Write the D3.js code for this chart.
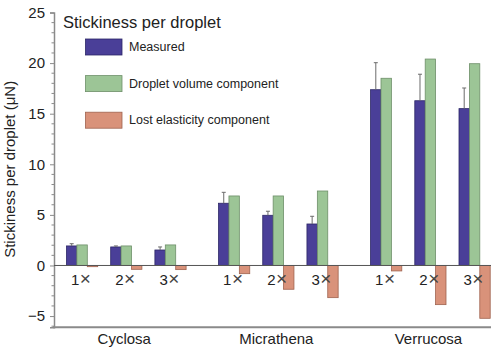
<!DOCTYPE html>
<html><head><meta charset="utf-8">
<script src="https://cdn.jsdelivr.net/npm/d3@7/dist/d3.min.js"></script>
<style>body{margin:0;background:#fff}svg{display:block;font-family:"Liberation Sans",Arial,sans-serif}</style>
</head><body><svg id="c" width="494" height="348"></svg>
<script>
const species = ["Cyclosa","Micrathena","Verrucosa"];
const reps = ["1×","2×","3×"];
const seriesNames = ["Measured","Droplet volume component","Lost elasticity component"];
const measured = [1.93,1.83,1.53, 6.15,4.96,4.10, 17.37,16.28,15.50];
const measuredErr = [0.22,0.10,0.30, 1.08,0.40,0.76, 2.67,2.62,2.04];
const volume = [2.03,1.93,2.03, 6.87,6.87,7.36, 18.50,20.40,19.94];
const elasticity = [-0.12,-0.38,-0.41, -0.81,-2.35,-3.18, -0.54,-3.87,-5.22];
const yTicks = [-5,0,5,10,15,20,25];
const colors = ["#4a3f98","#9cc596","#d9927a"];
const strokes = ["#2c2766","#6e8f69","#9f634f"];

const svg = d3.select("#c");
const y = d3.scaleLinear().domain([-6.1,25]).range([327.2,12.5]);
const x = d3.scaleLinear().domain([0,8.88]).range([66.5,459]);
const inner = d3.scaleBand().domain(seriesNames).range([0,31.2]).padding(0);
const pos = (i) => Math.floor(i/3)*3.44 + (i%3);

// y axis
const yAxis = d3.axisLeft(y).tickValues(yTicks).tickSize(4).tickPadding(5).tickFormat(d => d<0 ? "\u2212"+Math.abs(d) : d);
const ga = svg.append("g").attr("transform","translate(54,0)").call(yAxis);
ga.select(".domain").attr("stroke","#8a8a8a").attr("stroke-width",1.5);
ga.selectAll(".tick line").attr("stroke","#8a8a8a");
ga.selectAll(".tick text").attr("font-size",15).attr("fill","#222").attr("font-family","Liberation Sans, Arial, sans-serif");
const minor = d3.range(-6,26).filter(v => v%5!==0);
svg.append("g").selectAll("line").data(minor).join("line")
  .attr("x1",51.5).attr("x2",54).attr("y1",d=>y(d)).attr("y2",d=>y(d))
  .attr("stroke","#8a8a8a").attr("stroke-width",1);

// bottom axis line
svg.append("line").attr("x1",53).attr("x2",491).attr("y1",y(-6.1)).attr("y2",y(-6.1))
  .attr("stroke","#8a8a8a").attr("stroke-width",2);

// bars
const seriesVals = [measured, volume, elasticity];
seriesVals.forEach((vals, si) => {
  svg.append("g").selectAll("rect").data(vals).join("rect")
    .attr("x",(d,i)=>x(pos(i))+inner(seriesNames[si]))
    .attr("width",inner.bandwidth())
    .attr("y",d=>y(Math.max(0,d)))
    .attr("height",d=>Math.abs(y(d)-y(0)))
    .attr("fill",colors[si]).attr("stroke",strokes[si]).attr("stroke-width",0.8);
});
// error bars (upward)
const eg = svg.append("g").attr("stroke","#6b6b6b").attr("stroke-width",1);
measured.forEach((m,i)=>{
  const cx = x(pos(i))+inner(seriesNames[0])+inner.bandwidth()/2;
  eg.append("line").attr("x1",cx).attr("x2",cx).attr("y1",y(m)).attr("y2",y(m+measuredErr[i]));
  eg.append("line").attr("x1",cx-2).attr("x2",cx+2).attr("y1",y(m+measuredErr[i])).attr("y2",y(m+measuredErr[i]));
});

// zero line
svg.append("line").attr("x1",54).attr("x2",491).attr("y1",y(0)).attr("y2",y(0))
  .attr("stroke","#555").attr("stroke-width",1);

// rep labels
const rl = svg.append("g").selectAll("text").data(d3.range(9)).join("text")
  .attr("x",i=>x(pos(i))+4.5).attr("y",y(0)+20)
  .attr("font-size",15).attr("fill","#222");
rl.append("tspan").text(i=>reps[i%3].charAt(0));
rl.append("tspan").attr("dx",0.5)
  .attr("font-size",19).attr("fill","#444").text(i=>reps[i%3].slice(1));

// species labels
svg.append("g").selectAll("text").data(species).join("text")
  .attr("x",(d,s)=>x(s*3.44+1)+15.6-2).attr("y",344)
  .attr("text-anchor","middle").attr("font-size",15).attr("fill","#222").text(d=>d);

// y title
svg.append("text").attr("transform","translate(15,"+y(9.5)+") rotate(-90)")
  .attr("text-anchor","middle").attr("font-size",15).attr("fill","#222")
  .text("Stickiness per droplet (\u03bcN)");

// legend
svg.append("text").attr("x",63).attr("y",28).attr("font-size",16.5).attr("fill","#222").text("Stickiness per droplet");
const lg = svg.append("g");
seriesNames.forEach((n,si)=>{
  const yy = 39 + si*36.6;
  lg.append("rect").attr("x",85.5).attr("y",yy).attr("width",36.5).attr("height",16)
    .attr("fill",colors[si]).attr("stroke",strokes[si]).attr("stroke-width",0.8);
  lg.append("text").attr("x",129).attr("y",yy+12).attr("font-size",12.5).attr("fill","#222").text(n);
});
</script></body></html>
